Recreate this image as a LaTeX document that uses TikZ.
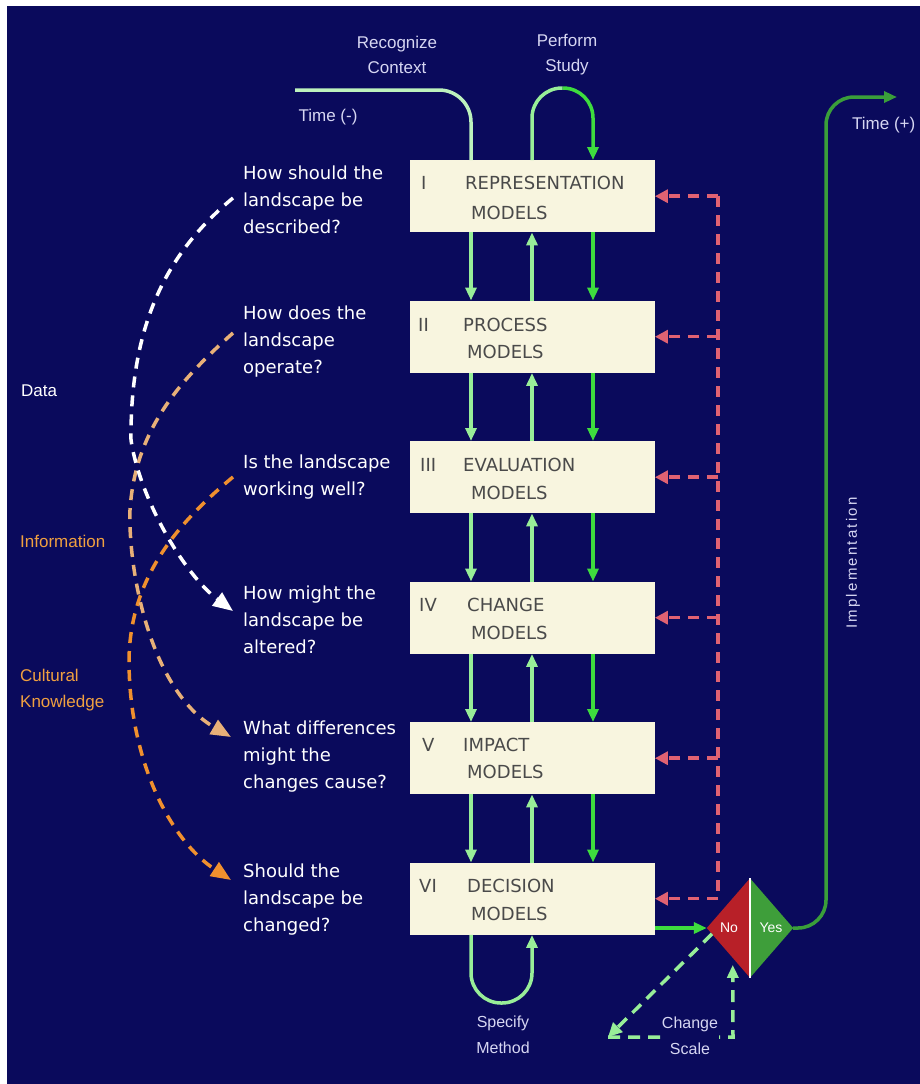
\documentclass[tikz,border=0pt]{standalone}
\usepackage{fontspec}
\setmainfont{Liberation Sans}
\newfontfamily\qfont{DejaVu Sans}
\newfontfamily\impfont[LetterSpace=15]{Liberation Sans}
\usetikzlibrary{arrows.meta,shapes.geometric,calc}
\definecolor{navy}{HTML}{0A0A5C}
\definecolor{boxfill}{HTML}{F8F5DF}
\definecolor{boxtext}{HTML}{4A4A4A}
\definecolor{lgreen}{HTML}{98EE98}
\definecolor{pgreen}{HTML}{BDF2BD}
\definecolor{bgreen}{HTML}{3EDC3E}
\definecolor{dgreen}{HTML}{3A9E3A}
\definecolor{redd}{HTML}{E06272}
\definecolor{lav}{HTML}{D6D6F2}
\definecolor{oranA}{HTML}{E8B078}
\definecolor{oranB}{HTML}{F0902E}
\definecolor{orlabel}{HTML}{F0A040}
\definecolor{nored}{HTML}{B82028}
\definecolor{yesgreen}{HTML}{3E9E3A}
\begin{document}
\begin{tikzpicture}[x=1pt,y=-1pt,
  box/.style={draw=none, fill=boxfill, minimum width=245pt, minimum height=72pt, inner sep=0pt, anchor=north west},
  boxtxt/.style={text=boxtext, font=\qfont\fontsize{18}{18}\selectfont, inner sep=0pt, anchor=west},
  ques/.style={text=white, font=\qfont\fontsize{18}{27}\selectfont, align=left, inner sep=0pt, anchor=west},
  lbl/.style={text=lav, font=\fontsize{17}{25}\selectfont, align=center, inner sep=0pt},
  side/.style={font=\fontsize{17}{26}\selectfont, align=left, inner sep=0pt, anchor=west},
  lgline/.style={draw=lgreen, line width=3.5pt},
  bgline/.style={draw=bgreen, line width=3.5pt},
  dgline/.style={draw=dgreen, line width=3.5pt},
  gtip/.style={-{Triangle[length=13pt,width=11pt]}},
  reddash/.style={draw=redd, line width=3.5pt, dash pattern=on 11pt off 8pt},
  rtip/.style={-{Triangle[length=13pt,width=13pt]}},
  cdash/.style={line width=3.5pt, dash pattern=on 11pt off 8pt},
  ctip/.style={-{Triangle[length=20pt,width=16pt]}},
  gdash/.style={draw=lgreen, line width=3.5pt, dash pattern=on 12pt off 8pt}
]
\useasboundingbox (0,0) rectangle (920,1084);
\fill[white] (0,0) rectangle (920,1084);
\fill[navy] (7,6) rectangle (920,1084);

% column coordinates
\coordinate (lx) at (471,0);
\coordinate (mx) at (532,0);
\coordinate (rx) at (593,0);
\coordinate (rdx) at (718,0);

% boxes
\node[box] (b1) at (409.5,160) {};
\node[box] (b2) at (409.5,300.5) {};
\node[box] (b3) at (409.5,441) {};
\node[box] (b4) at (409.5,581.5) {};
\node[box] (b5) at (409.5,722) {};
\node[box] (b6) at (409.5,862.5) {};

% box texts
\node[boxtxt] (n1) at (421,183) {I};
\node[boxtxt] (t1) at (465,183) {REPRESENTATION};
\node[boxtxt] (m1) at (471,213) {MODELS};
\node[boxtxt] (n2) at (418,325) {II};
\node[boxtxt] (t2) at (463,325) {PROCESS};
\node[boxtxt] (m2) at (467,352) {MODELS};
\node[boxtxt] (n3) at (420,465) {III};
\node[boxtxt] (t3) at (463,465) {EVALUATION};
\node[boxtxt] (m3) at (471,493) {MODELS};
\node[boxtxt] (n4) at (419,605) {IV};
\node[boxtxt] (t4) at (467,605) {CHANGE};
\node[boxtxt] (m4) at (471,633) {MODELS};
\node[boxtxt] (n5) at (422,745) {V};
\node[boxtxt] (t5) at (463,745) {IMPACT};
\node[boxtxt] (m5) at (467,772) {MODELS};
\node[boxtxt] (n6) at (419,886) {VI};
\node[boxtxt] (t6) at (467,886) {DECISION};
\node[boxtxt] (m6) at (471,914) {MODELS};

% green verticals between boxes
\foreach \a/\b in {b1/b2,b2/b3,b3/b4,b4/b5,b5/b6}{
  \draw[lgline,gtip] (\a.south -| lx) -- (\b.north -| lx);
  \draw[lgline,gtip] (\b.north -| mx) -- (\a.south -| mx);
  \draw[bgline,gtip] (\a.south -| rx) -- (\b.north -| rx);
}

% Recognize context line
\coordinate (tminus) at (295,90);
\draw[draw=pgreen, line width=3.5pt, rounded corners=32pt] (tminus) -- (471,90) -- (b1.north -| lx);
% Perform study loop
\coordinate (pstop) at (562.5,88);
\draw[lgline, rounded corners=30pt] (b1.north -| mx) -- (532,88) -- (pstop);
\draw[bgline, gtip, rounded corners=30pt] (pstop) -- (593,88) -- (b1.north -| rx);
% Specify method loop
\draw[lgline, gtip, rounded corners=30pt] (b6.south -| lx) -- (471,1003) -- (532,1003) -- (b6.south -| mx);

% red dashed feedback
\draw[reddash] (b1.east -| rdx) -- (b6.east -| rdx);
\foreach \b in {b1,b2,b3,b4,b5,b6}{
  \draw[reddash,rtip] (\b.east -| rdx) -- (\b.east);
}

% decision diamond
\node[diamond, minimum width=86pt, minimum height=99pt, inner sep=0pt] (dm) at (750,928) {};
\fill[nored] (dm.north) -- (dm.west) -- (dm.south) -- cycle;
\fill[yesgreen] (dm.north) -- (dm.east) -- (dm.south) -- cycle;
\draw[white, line width=1.2pt] (dm.north) -- (dm.south);
\node[text=white, font=\fontsize{14}{14}\selectfont, inner sep=0pt] (no) at (729,928) {No};
\node[text=white, font=\fontsize{14}{14}\selectfont, inner sep=0pt] (yes) at (771,928) {Yes};

\draw[bgline,gtip] (dm.west -| b6.east) -- (dm.west);

% implementation line
\coordinate (tplus) at (897,97);
\draw[dgline, gtip, rounded corners=28pt] (dm.east) -- (826,928) -- (826,97) -- (tplus);

% change scale
\coordinate (csA) at ($(dm.west)!0.12!(dm.south)$);
\coordinate (csB) at (608,1037);
\coordinate (csC) at (733,1037);
\coordinate (csD) at ($(dm.west)!0.6!(dm.south)$);
\draw[gdash, -{Triangle[length=14pt,width=13pt]}] (csA) -- (csB);
\draw[gdash, -{Triangle[length=13pt,width=11pt]}, shorten >=7pt] (csB) -- (csC) -- (csD);
\node[lbl, fill=navy, inner sep=1pt, font=\fontsize{16}{26}\selectfont] (cs) at (690,1036) {Change\\Scale};

% labels
\node[lbl] (rc) at (397,55) {Recognize\\Context};
\node[lbl] (ps) at (567,55) {Perform\\Study};
\node[lbl] (tm) at (328,117) {Time (-)};
\node[lbl, anchor=west] (tp) at (852,125) {Time (+)};
\node[lbl, font=\fontsize{16}{26}\selectfont] (sm) at (503,1035) {Specify\\Method};
\node[text=lav, font=\impfont\fontsize{15}{15}\selectfont, rotate=90, inner sep=0pt] (impl) at (853,563) {Implementation};

% questions
\node[ques] (q1) at (243,200) {How should the\\landscape be\\described?};
\node[ques] (q2) at (243,342) {How does the\\landscape\\operate?};
\node[ques] (q3) at (243,477) {Is the landscape\\working well?};
\node[ques] (q4) at (243,620) {How might the\\landscape be\\altered?};
\node[ques] (q5) at (243,757) {What differences\\might the\\changes cause?};
\node[ques] (q6) at (243,900) {Should the\\landscape be\\changed?};

% side labels
\node[side, text=white] (data) at (21,391) {Data};
\node[side, text=orlabel] (info) at (20,541) {Information};
\node[side, text=orlabel] (cult) at (20,690) {Cultural\\Knowledge};

% dashed question links
\coordinate (w1) at ($(q1.west)+(-10,-2)$);
\coordinate (w4) at ($(q4.west)+(-10,-9)$);
\coordinate (a2) at ($(q2.west)+(-10,-9)$);
\coordinate (a5) at ($(q5.west)+(-12,-20)$);
\coordinate (o3) at ($(q3.west)+(-10,0)$);
\coordinate (o6) at ($(q6.west)+(-12,-20)$);
\draw[cdash, draw=oranB, ctip] (o3) .. controls (175,525) and (130,580) .. (129,660) .. controls (129,760) and (170,840) .. (o6);
\draw[cdash, draw=oranA, ctip] (a2) .. controls (180,380) and (135,430) .. (130,510) .. controls (128,570) and (150,690) .. (a5);
\draw[cdash, draw=white, ctip] (w1) .. controls (170,250) and (130,320) .. (131,440) .. controls (140,500) and (185,575) .. (w4);
\end{tikzpicture}
\end{document}
